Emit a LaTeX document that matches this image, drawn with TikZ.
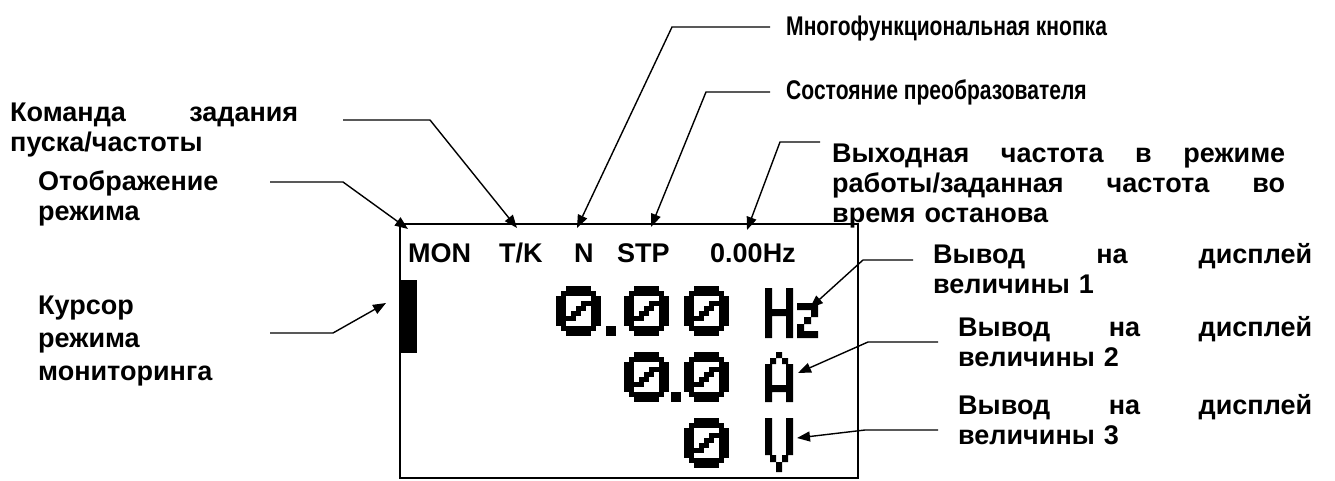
\documentclass[tikz,border=0pt]{standalone}
\usepackage{fontspec}
\usepackage{graphicx}
\setmainfont{Liberation Sans}
\usetikzlibrary{arrows.meta}
\newcommand{\narrowtxt}[1]{\scalebox{0.78}[1]{#1}}
\tikzset{
  lbl/.style    ={anchor=base west, inner sep=0pt, align=left,
                  font=\bfseries\fontsize{27}{30}\selectfont},
  lcd/.style    ={anchor=base west, inner sep=0pt,
                  font=\bfseries\fontsize{27}{31}\selectfont},
  frame/.style  ={draw, line width=2pt, inner sep=0pt},
  arr/.style    ={-{Triangle[length=13pt, width=10pt]}, line width=1.4pt},
  lcdzero/.pic  ={
    \foreach \a/\b/\r in {2/7/0, 1/8/1, 0/2/2, 7/9/2, 0/2/3, 5/9/3, 0/2/4, 4/6/4, 7/9/4,
                          0/2/5, 3/5/5, 7/9/5, 0/4/6, 7/9/6, 0/2/7, 7/9/7, 1/8/8, 2/7/9}
      \fill (5*\a, 5*\r) rectangle (5*\b, 5*\r+5);
  },
}

\begin{document}
\begin{tikzpicture}[x=1pt, y=-1pt]
  \useasboundingbox (0,0) rectangle (1335,480);

  % display
  \node[frame, anchor=north west, minimum width=458pt, minimum height=254pt] (disp) at (399,223) {};
  \node[fill=black, anchor=north west, inner sep=0pt, minimum width=18pt, minimum height=73pt] (cursor) at (399,280) {};
  \node[lcd] (mon) at (408,262) {MON};
  \node[lcd] (tk)  at (499,262) {T/K};
  \node[lcd] (nn)  at (574,262) {N};
  \node[lcd] (stp) at (617,262) {STP};
  \node[lcd] (frq) at (710,262) {0.00Hz};

  \pic at (556,286) {lcdzero};
  \pic at (624,286) {lcdzero};
  \pic at (684,286) {lcdzero};
  \pic at (624,352) {lcdzero};
  \pic at (684,352) {lcdzero};
  \pic at (684,418) {lcdzero};
  \fill (606,326) rectangle (616,336);
  \fill (671,392) rectangle (681,402);

  % Hz
  \fill (765,288) rectangle (772,338) (786,288) rectangle (793,338) (772,309) rectangle (786,316);
  \fill (797,303) rectangle (818,310) (811,310) rectangle (818,317) (804,317) rectangle (811,324)
        (797,324) rectangle (804,331) (797,331) rectangle (818,338);
  % A
  \fill (776,352) rectangle (782,358) (770,358) rectangle (776,364) (782,358) rectangle (788,364)
        (765,364) rectangle (772,402) (786,364) rectangle (793,402) (772,385) rectangle (786,392);
  % V
  \fill (765,418) rectangle (772,455) (786,418) rectangle (793,455) (770,455) rectangle (776,462)
        (782,455) rectangle (788,462) (776,462) rectangle (782,472);

  % labels
  \node[lbl] (mfk)  at (786,35)  {\narrowtxt{Многофункциональная кнопка}};
  \node[lbl] (sost) at (786,99)  {\narrowtxt{Состояние преобразователя}};
  \node[lbl, text width=453pt] (vyh) at (832,162)
        {Выходная\hfill частота\hfill в\hfill режиме\\работы/заданная\hfill частота\hfill во\\время останова};
  \node[lbl, text width=288pt] (cmd) at (10,121) {Команда\hfill задания\\пуска/частоты};
  \node[lbl, text width=220pt] (otob) at (38,190) {Отображение\\режима};
  \node[lbl, text width=220pt, font=\bfseries\fontsize{27}{33}\selectfont] (kurs) at (38,314)
        {Курсор\\режима\\мониторинга};
  \node[lbl, text width=379pt] (val1) at (933,263) {Вывод\hfill на\hfill дисплей\\величины 1};
  \node[lbl, text width=354pt] (val2) at (958,336) {Вывод\hfill на\hfill дисплей\\величины 2};
  \node[lbl, text width=354pt] (val3) at (958,414) {Вывод\hfill на\hfill дисплей\\величины 3};

  % leaders
  \coordinate (sMon) at (270,182); \coordinate (bMon) at (343,182); \coordinate (tMon) at (408,229);
  \coordinate (sTk)  at (343,120); \coordinate (bTk)  at (430,120); \coordinate (tTk)  at (517,228);
  \coordinate (sN)   at (770,27);  \coordinate (bN)   at (672,27);  \coordinate (tN)   at (577,228);
  \coordinate (sStp) at (770,92);  \coordinate (bStp) at (706,92);  \coordinate (tStp) at (651,227);
  \coordinate (sFrq) at (820,142); \coordinate (bFrq) at (780,142); \coordinate (tFrq) at (747,230);
  \coordinate (sHz)  at (913,260); \coordinate (bHz)  at (863,260); \coordinate (tHz)  at (810,308);
  \coordinate (sA)   at (938,342); \coordinate (bA)   at (868,342); \coordinate (tA)   at (798,373);
  \coordinate (sV)   at (938,430); \coordinate (bV)   at (865,430); \coordinate (tV)   at (797,438);
  \coordinate (sCur) at (270,333); \coordinate (bCur) at (333,333); \coordinate (tCur) at (386,303);

  \draw[arr] (sMon) -- (bMon) -- (tMon);
  \draw[arr] (sTk)  -- (bTk)  -- (tTk);
  \draw[arr] (sN)   -- (bN)   -- (tN);
  \draw[arr] (sStp) -- (bStp) -- (tStp);
  \draw[arr] (sFrq) -- (bFrq) -- (tFrq);
  \draw[arr] (sHz)  -- (bHz)  -- (tHz);
  \draw[arr] (sA)   -- (bA)   -- (tA);
  \draw[arr] (sV)   -- (bV)   -- (tV);
  \draw[arr] (sCur) -- (bCur) -- (tCur);
\end{tikzpicture}
\end{document}
